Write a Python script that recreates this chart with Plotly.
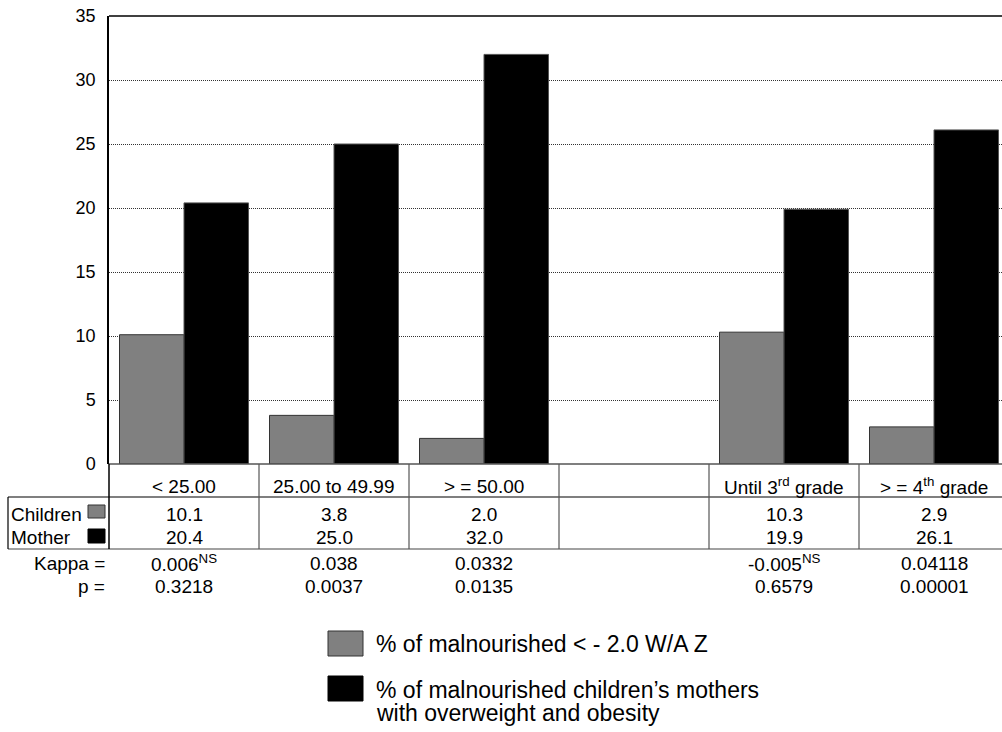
import plotly.graph_objects as go

# Categories: three maternal-income groups, a blank spacer slot, two schooling groups
categories = ["< 25.00", "25.00 to 49.99", "> = 50.00", "",
              "Until 3<sup>rd</sup> grade", "> = 4<sup>th</sup> grade"]
children = [10.1, 3.8, 2.0, None, 10.3, 2.9]
mother = [20.4, 25.0, 32.0, None, 19.9, 26.1]
kappa = ["0.006<sup>NS</sup>", "0.038", "0.0332", "", "-0.005<sup>NS</sup>", "0.04118"]
p_values = ["0.3218", "0.0037", "0.0135", "", "0.6579", "0.00001"]

y_ticks = [0, 5, 10, 15, 20, 25, 30, 35]

legend_children = "% of malnourished < - 2.0 W/A Z"
legend_mother = ["% of malnourished children\u2019s mothers", "with overweight and obesity"]

GRAY = "#808080"
FONT = "Liberation Sans, Arial, sans-serif"

W, H = 1002, 732
L, R, T, B = 109, 0, 16, 268
plot_w = W - L - R
plot_h = H - T - B
n = len(categories)
xpos = list(range(n))

# each category column is 150 px wide; the last one runs off the right edge
col_px = 150.0
x_range = [-0.5, -0.5 + plot_w / col_px]


def px(x):
    """page pixel x -> paper x"""
    return (x - L) / plot_w


def py(y):
    """page pixel y -> paper y"""
    return (H - B - y) / plot_h


def dx(v):
    """data x -> paper x"""
    return (v - x_range[0]) / (x_range[1] - x_range[0])


def fmt(v):
    return "" if v is None else f"{v:.1f}"


fig = go.Figure()
fig.add_trace(go.Bar(x=xpos, y=children, marker=dict(color=GRAY, line=dict(color="#333333", width=1)),
                     name="Children", showlegend=False))
fig.add_trace(go.Bar(x=xpos, y=mother, marker=dict(color="#000000", line=dict(color="#555555", width=1)),
                     name="Mother", showlegend=False))

shapes = []
# frame: top border and zero line
shapes.append(dict(type="line", xref="paper", yref="paper", x0=0, x1=1, y0=1, y1=1,
                   line=dict(color="black", width=1.5)))
shapes.append(dict(type="line", xref="paper", yref="paper", x0=0, x1=1, y0=0, y1=0,
                   line=dict(color="#555555", width=1.5)))
# table rules
row_bottom = py(497)
tab_bottom = py(549)
shapes.append(dict(type="line", xref="paper", yref="paper", x0=px(8), x1=1, y0=row_bottom, y1=row_bottom,
                   line=dict(color="black", width=1.2)))
shapes.append(dict(type="line", xref="paper", yref="paper", x0=px(8), x1=1, y0=tab_bottom, y1=tab_bottom,
                   line=dict(color="#444444", width=1.2)))
shapes.append(dict(type="line", xref="paper", yref="paper", x0=px(8), x1=px(8), y0=row_bottom, y1=tab_bottom,
                   line=dict(color="black", width=1.2)))
shapes.append(dict(type="line", xref="paper", yref="paper", x0=0, x1=0, y0=0, y1=tab_bottom,
                   line=dict(color="black", width=1.5)))
for i in range(1, n):
    xb = dx(i - 0.5)
    shapes.append(dict(type="line", xref="paper", yref="paper", x0=xb, x1=xb, y0=0, y1=tab_bottom,
                       line=dict(color="#555555", width=1.2)))
# row key swatches
shapes.append(dict(type="rect", xref="paper", yref="paper", x0=px(88), x1=px(105), y0=py(505), y1=py(518),
                   fillcolor=GRAY, line=dict(color="#333333", width=1)))
shapes.append(dict(type="rect", xref="paper", yref="paper", x0=px(88), x1=px(105), y0=py(529), y1=py(543),
                   fillcolor="black", line=dict(color="black", width=1)))
# legend swatches
shapes.append(dict(type="rect", xref="paper", yref="paper", x0=px(328), x1=px(363), y0=py(631), y1=py(656),
                   fillcolor=GRAY, line=dict(color="#333333", width=1)))
shapes.append(dict(type="rect", xref="paper", yref="paper", x0=px(328), x1=px(363), y0=py(676), y1=py(701),
                   fillcolor="black", line=dict(color="black", width=1)))

ann = []
tf = dict(family=FONT, size=19, color="black")


def cell(x, y, text, anchor="center", font=tf):
    if not text:
        return
    ann.append(dict(x=x, y=y, xref="x" if anchor == "center" else "paper", yref="paper", text=text,
                    showarrow=False, xanchor=anchor, yanchor="middle", font=font))


for i, cat in enumerate(categories):
    cell(i, py(486), cat)
    cell(i, py(514), fmt(children[i]))
    cell(i, py(537), fmt(mother[i]))
    cell(i, py(563), kappa[i])
    cell(i, py(586), p_values[i])

cell(px(9), py(514), "Children", "left")
cell(px(9), py(537), "Mother", "left")
cell(px(107), py(563), "Kappa =", "right")
cell(px(107), py(586), "p =", "right")

lf = dict(family=FONT, size=23, color="black")
cell(px(374), py(644), legend_children, "left", lf)
cell(px(374), py(690), legend_mother[0], "left", lf)
cell(px(374), py(713), legend_mother[1], "left", lf)

fig.update_layout(
    width=W, height=H,
    margin=dict(l=L, r=R, t=T, b=B, pad=0),
    paper_bgcolor="white", plot_bgcolor="white",
    barmode="group", bargap=0.14, bargroupgap=0,
    shapes=shapes, annotations=ann,
    font=dict(family=FONT, size=18, color="black"),
    xaxis=dict(range=x_range, showticklabels=False, showgrid=False, zeroline=False,
               showline=False, ticks=""),
    yaxis=dict(range=[0, 35], tickvals=y_ticks, showgrid=True, gridcolor="#333333", griddash="1px,1px",
               gridwidth=1, zeroline=False, showline=True, linecolor="black", linewidth=1.5,
               ticks="", ticklabelstandoff=8, tickfont=dict(family=FONT, size=18, color="black")),
)

fig.write_html("out.html")
